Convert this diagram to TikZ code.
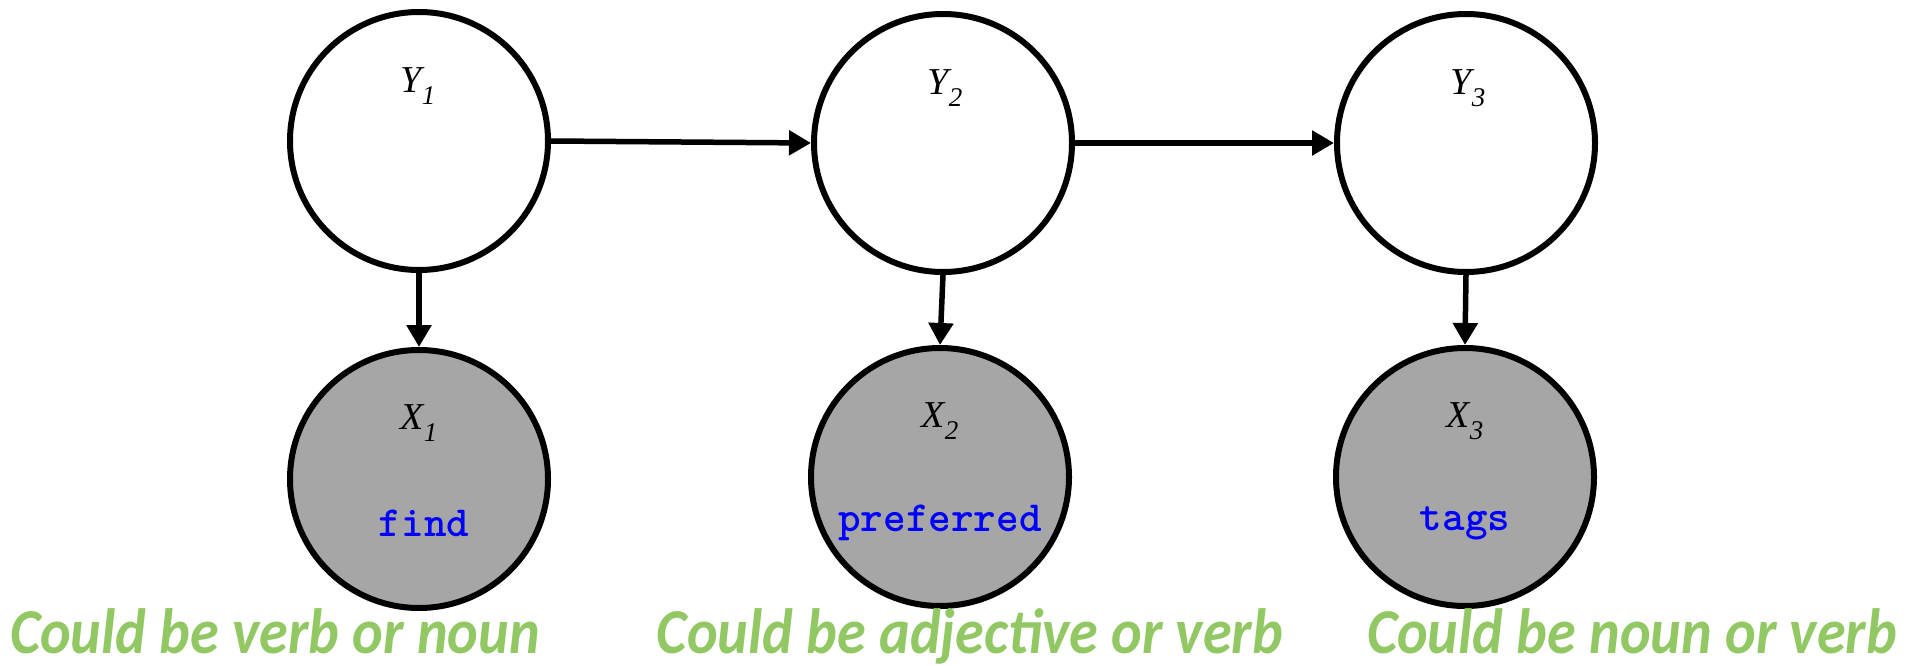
\documentclass[tikz,border=0pt]{standalone}
\usepackage{fontspec}
\setmainfont{Liberation Serif}
\newfontfamily\greenfont[FakeStretch=0.91]{Carlito}
\newfontfamily\monofont{lmmonolt10-bold.otf}
\usetikzlibrary{arrows.meta}
\definecolor{obsgray}{RGB}{166,166,166}
\definecolor{notegreen}{RGB}{146,200,100}
\newcommand{\varlab}[2]{#1\raisebox{-0.32em}{\fontsize{27}{27}\selectfont #2}}
\begin{document}
\begin{tikzpicture}[x=1pt,y=-1pt,
  var/.style={circle,draw=black,line width=6pt,minimum size=258pt,inner sep=0pt},
  hid/.style={var,fill=white},
  obs/.style={var,fill=obsgray},
  lab/.style={font=\fontsize{38}{40}\selectfont\itshape},
  word/.style={font=\fontsize{43}{45}\selectfont\monofont,text=blue},
  note/.style={font=\fontsize{64}{70}\selectfont\greenfont\bfseries\itshape,text=notegreen,anchor=base,inner sep=0pt},
  edge/.style={line width=5.5pt,-{Triangle[length=22pt,width=24pt]}}]
\useasboundingbox (0,0) rectangle (1917,666);
\node[hid] (Y1) at (419,141) {};
\node[hid] (Y2) at (943,143) {};
\node[hid] (Y3) at (1466,143) {};
\node[obs] (X1) at (419,479) {};
\node[obs] (X2) at (940,477) {};
\node[obs] (X3) at (1465,477) {};
\node[lab] (ly1) at (418,86) {\varlab{Y}{1}};
\node[lab] (ly2) at (945,88) {\varlab{Y}{2}};
\node[lab] (ly3) at (1468,88) {\varlab{Y}{3}};
\node[lab] (lx1) at (419,423) {\varlab{X}{1}};
\node[lab] (lx2) at (940,421) {\varlab{X}{2}};
\node[lab] (lx3) at (1465,421) {\varlab{X}{3}};
\node[word] (w1) at (424,523) {find};
\node[word] (w2) at (940,523) {preferred};
\node[word] (w3) at (1465,523) {tags};
\draw[edge] (Y1.east) -- (Y2.west);
\draw[edge] (Y2.east) -- (Y3.west);
\draw[edge] (Y1.south) -- (X1.north);
\draw[edge] (Y2.south) -- (X2.north);
\draw[edge] (Y3.south) -- (X3.north);
\node[note] (n1) at (275,653) {Could be verb or noun};
\node[note] (n2) at (970,653) {Could be adjective or verb};
\node[note] (n3) at (1632,653) {Could be noun or verb};
\end{tikzpicture}
\end{document}
